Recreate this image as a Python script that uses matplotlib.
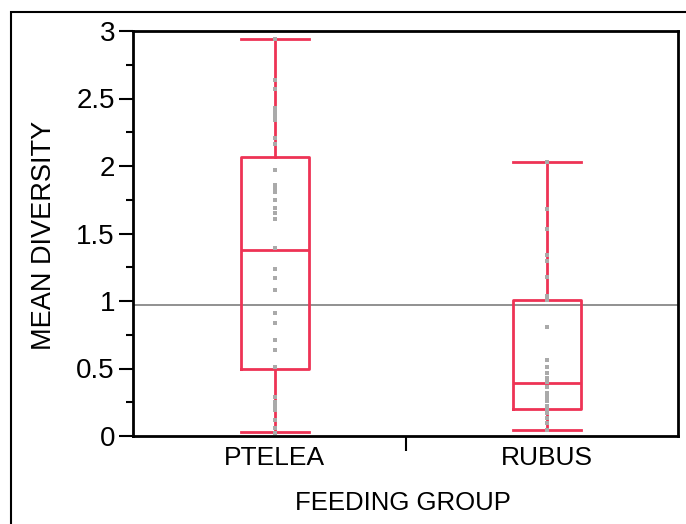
import numpy as np
import matplotlib.pyplot as plt
from matplotlib.patches import Rectangle

plt.rcParams['font.family'] = ['Liberation Sans', 'DejaVu Sans']

groups = ['PTELEA', 'RUBUS']
whisker_low = [0.03, 0.045]
q1 = [0.50, 0.20]
median = [1.38, 0.395]
q3 = [2.07, 1.01]
whisker_high = [2.94, 2.03]
grand_mean = 0.97

ptelea_pts = [2.94, 2.64, 2.57, 2.43, 2.40, 2.37, 2.34, 2.21, 2.16, 1.97, 1.86, 1.83,
              1.81, 1.75, 1.69, 1.65, 1.61, 1.39, 1.24, 1.17, 1.08, 0.91, 0.84, 0.71,
              0.64, 0.51, 0.29, 0.25, 0.22, 0.19, 0.12, 0.06, 0.02]
rubus_pts = [2.03, 1.68, 1.53, 1.34, 1.30, 1.18, 1.04, 1.01, 0.81, 0.56, 0.51, 0.47,
             0.43, 0.40, 0.36, 0.32, 0.29, 0.26, 0.22, 0.19, 0.17, 0.13, 0.10, 0.045]

red = '#ee3355'
positions = [0.52, 1.52]

fig = plt.figure(figsize=(6.86, 5.24), dpi=100)
fig.patches.append(Rectangle((11/686, -0.1), 1.2, 1.1 - 12/524, transform=fig.transFigure,
                             fill=False, edgecolor='black', linewidth=1.5))
ax = fig.add_axes([133/686, 88/524, 545/686, 405/524])

stats = []
for i in range(len(groups)):
    stats.append({'whislo': whisker_low[i], 'q1': q1[i], 'med': median[i],
                  'q3': q3[i], 'whishi': whisker_high[i], 'fliers': []})

ax.axhline(grand_mean, color='#888888', linewidth=1.3, zorder=1)

ax.bxp(stats, positions=positions, widths=0.25, showfliers=False,
       boxprops=dict(color=red, linewidth=2),
       medianprops=dict(color=red, linewidth=2),
       whiskerprops=dict(color=red, linewidth=2),
       capprops=dict(color=red, linewidth=2),
       capwidths=0.25, manage_ticks=False, zorder=2)

for pos, pts in zip(positions, [ptelea_pts, rubus_pts]):
    ax.scatter(np.full(len(pts), pos), pts, marker='s', s=7, color='#aaaaaa',
               linewidths=0, zorder=3)

ax.set_xlim(0, 2)
ax.set_ylim(0, 3)
ax.set_yticks([0, 0.5, 1, 1.5, 2, 2.5, 3])
ax.set_yticklabels(['0', '0.5', '1', '1.5', '2', '2.5', '3'])
ax.set_yticks(np.arange(0.25, 3, 0.5), minor=True)
ax.tick_params(axis='y', which='major', length=10, width=1.5, labelsize=20, pad=3)
ax.tick_params(axis='y', which='minor', length=5, width=1.5)

ax.set_xticks([1.0])
ax.set_xticklabels([''])
ax.tick_params(axis='x', which='major', length=11, width=1.5)
for pos, name in zip(positions, groups):
    ax.text(pos, -0.025, name, transform=ax.get_xaxis_transform(), ha='center',
            va='top', fontsize=19)

for s in ax.spines.values():
    s.set_linewidth(2)

fig.text(44/686, 1 - 235/524, 'MEAN DIVERSITY', ha='center', va='center',
         rotation=90, fontsize=19.5)
fig.text(403/686, 1 - 503/524, 'FEEDING GROUP', ha='center', va='center', fontsize=18.5)

fig.savefig('out.png', dpi=100)
